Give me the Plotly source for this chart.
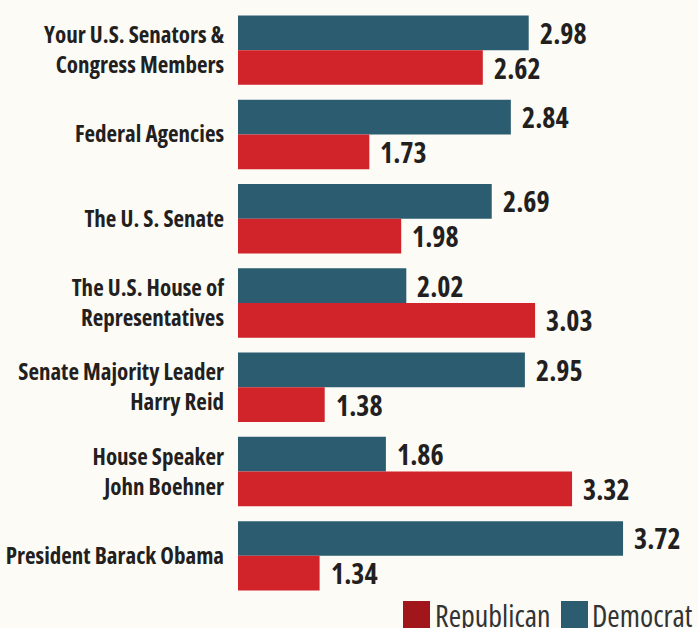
import plotly.graph_objects as go

# Survey scores by institution, split by party
categories = [
    "Your U.S. Senators &<br>Congress Members",
    "Federal Agencies",
    "The U. S. Senate",
    "The U.S. House of<br>Representatives",
    "Senate Majority Leader<br>Harry Reid",
    "House Speaker<br>John Boehner",
    "President Barack Obama",
]
democrat = [2.98, 2.84, 2.69, 2.02, 2.95, 1.86, 3.72]
republican = [2.62, 1.73, 1.98, 3.03, 1.38, 3.32, 1.34]
legend_names = ["Republican", "Democrat"]

DEM = "#2b5c70"
REP = "#d0232a"
REP_KEY = "#a0161b"
BG = "#fcfbf6"
INK = "#231f20"
FONT = "Open Sans, DejaVu Sans Condensed, sans-serif"

W, H = 698, 628
M_L, M_R, M_T, M_B = 238, 0, 8, 30
BARGAP = 0.176


def px_x(px):
    return (px - M_L) / (W - M_L - M_R)


def px_y(py):
    return (H - M_B - py) / (H - M_T - M_B)


fig = go.Figure()
fig.add_bar(y=categories, x=democrat, orientation="h", name=legend_names[1],
            marker=dict(color=DEM, line=dict(width=0)))
fig.add_bar(y=categories, x=republican, orientation="h", name=legend_names[0],
            marker=dict(color=REP, line=dict(width=0)))

# value labels beside each bar
half = (1 - BARGAP) / 4
annotations = []
for i, (d, r) in enumerate(zip(democrat, republican)):
    for v, off in ((d, -half), (r, half)):
        annotations.append(dict(
            x=v, y=i + off, xref="x", yref="y", text=f"{v:.2f}",
            showarrow=False, xanchor="left", yanchor="middle", xshift=9,
            align="left",
            font=dict(family=FONT, size=28, color=INK, weight="bold"),
        ))

# key at the bottom right
key_items = [(legend_names[0], REP_KEY, 403, 430, 433),
             (legend_names[1], DEM, 561, 588, 590)]
shapes = []
for name, color, x0, x1, tx in key_items:
    shapes.append(dict(type="rect", xref="paper", yref="paper",
                       x0=px_x(x0), x1=px_x(x1), y0=px_y(601), y1=px_y(634),
                       fillcolor=color, line=dict(width=0)))
    annotations.append(dict(
        x=px_x(tx), y=px_y(615), xref="paper", yref="paper", text=name,
        showarrow=False, xanchor="left", yanchor="middle", align="left",
        font=dict(family=FONT, size=30, color="#333333"),
    ))

fig.update_layout(
    width=W, height=H,
    margin=dict(l=M_L, r=M_R, t=M_T, b=M_B, pad=0),
    paper_bgcolor=BG, plot_bgcolor=BG,
    barmode="group", bargap=BARGAP, bargroupgap=0,
    showlegend=False,
    xaxis=dict(range=[0.7, 0.7 + (W - M_L - M_R) / 127.5], visible=False,
               automargin=False),
    yaxis=dict(autorange="reversed", showgrid=False, zeroline=False, showline=False,
               ticks="", ticklabelstandoff=13, automargin=False,
               tickfont=dict(family=FONT, size=23, color=INK, weight="bold")),
    annotations=annotations, shapes=shapes,
)

# narrow the lettering with the condensed width of the font
condense = (
    "var s=document.createElement('style');"
    "s.textContent='.ytick text,.annotation-text{font-stretch:75% !important}';"
    "document.head.appendChild(s);"
)
fig.write_html("out.html", post_script=condense)
